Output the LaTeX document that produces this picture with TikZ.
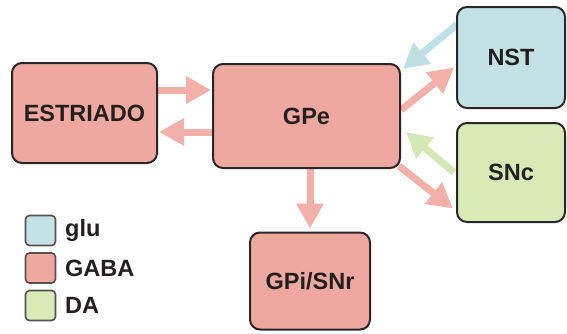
\documentclass[tikz,border=0pt]{standalone}
\usepackage{fontspec}
\setmainfont{Liberation Sans}
\usetikzlibrary{arrows.meta,calc,backgrounds}

\definecolor{gabafill}{HTML}{EEA8A0}
\definecolor{gabaarrow}{HTML}{F2B0A8}
\definecolor{glufill}{HTML}{C3E2E5}
\definecolor{gluarrow}{HTML}{BEDFE3}
\definecolor{dafill}{HTML}{D8EAB5}
\definecolor{daarrow}{HTML}{D4E8B6}
\definecolor{edge}{HTML}{2A2627}
\definecolor{ink}{HTML}{231F20}

\tikzset{
  region/.style={draw=edge, line width=2pt, rounded corners=10pt,
    font=\bfseries\fontsize{23.5}{27}\selectfont, text=ink, inner sep=0pt},
  keybox/.style={draw=edge!80, line width=1.6pt, rounded corners=4pt,
    minimum width=30pt, minimum height=30pt, inner sep=0pt},
  keytext/.style={anchor=west, font=\bfseries\fontsize{23.5}{27}\selectfont,
    text=ink, inner sep=0pt},
  link/.style={line width=7pt, -{Triangle[length=25pt,width=26pt]}},
}

\begin{document}
\begin{tikzpicture}[x=1pt,y=-1pt]
\useasboundingbox (0,0) rectangle (567,333);

% nuclei of the circuit
\node[region, fill=gabafill, minimum width=145pt, minimum height=100pt] (estr) at (84.5,113) {ESTRIADO};
\node[region, fill=gabafill, minimum width=187pt, minimum height=104pt] (gpe) at (306.5,116) {GPe};
\node[region, fill=glufill, minimum width=108pt, minimum height=101pt] (nst) at (511,57.5) {NST};
\node[region, fill=dafill, minimum width=108pt, minimum height=99pt] (snc) at (511,172.5) {SNc};
\node[region, fill=gabafill, minimum width=120pt, minimum height=97pt] (gpi) at (310,281) {GPi/SNr};

% projections, drawn behind the nuclei
\begin{pgfonlayer}{background}
\draw[link, gabaarrow] ($(estr.east)+(0,-23)$) -- ($(gpe.west)+(-1,-26)$);
\draw[link, gabaarrow] ($(gpe.west)+(0,16)$) -- ($(estr.east)+(1,19)$);
\draw[link, gabaarrow] (gpe.south -| gpi.north) -- ($(gpi.north)+(0,-3)$);
\draw[link, gluarrow] ($(nst.west)+(1,-33)$) -- ($(gpe.north east)+(2,6)$);
\draw[link, gabaarrow] ($(gpe.east)+(0,-6)$) -- ($(nst.west)+(-2,10)$);
\draw[link, daarrow] ($(snc.west)+(-2,0)$) -- ($(gpe.east)+(5,16)$);
\draw[link, gabaarrow] ($(gpe.south east)+(-2,-3)$) -- ($(snc.west)+(-3,36)$);
\end{pgfonlayer}

% key to the transmitters
\node[keybox, fill=glufill] (kglu) at (40.5,230.5) {};
\node[keybox, fill=gabafill] (kgaba) at (40.5,268) {};
\node[keybox, fill=dafill] (kda) at (40.5,305.5) {};
\node[keytext] (tglu) at (65,230.5) {glu};
\node[keytext] (tgaba) at (65,268) {GABA};
\node[keytext] (tda) at (65,305.5) {DA};
\end{tikzpicture}
\end{document}
